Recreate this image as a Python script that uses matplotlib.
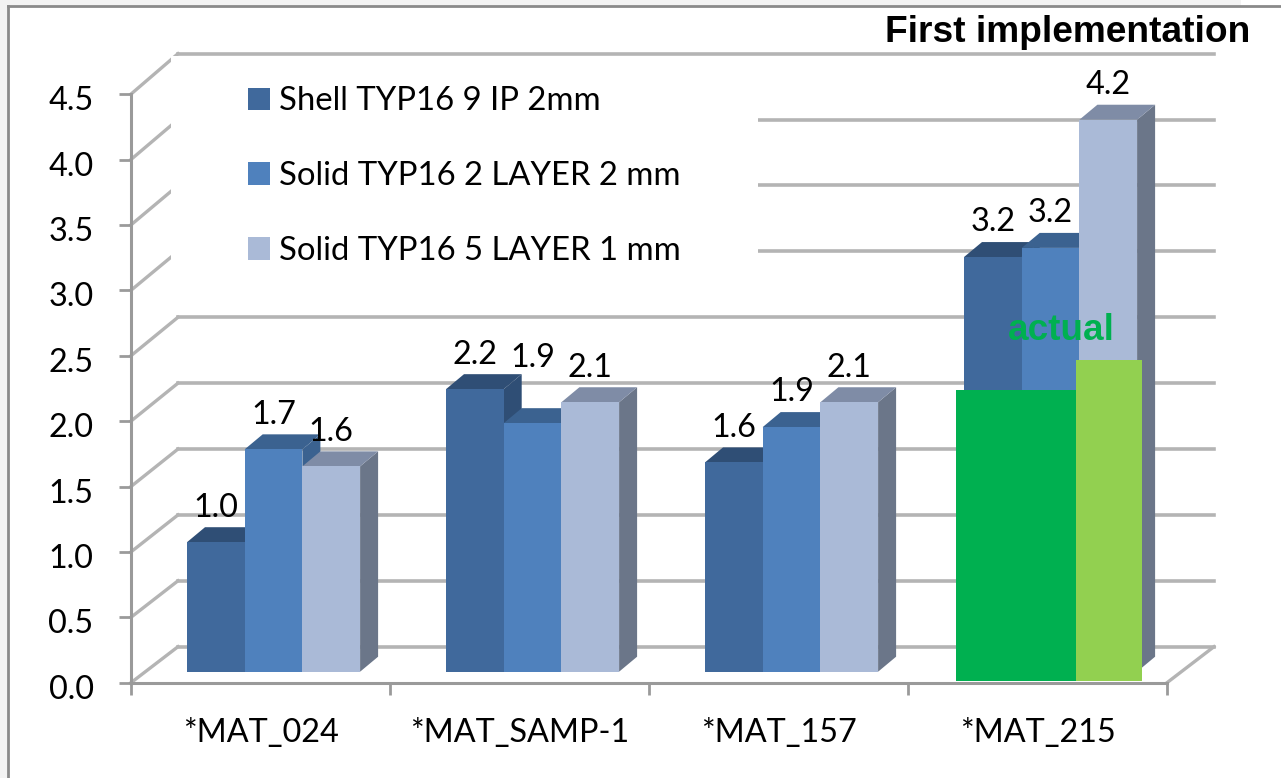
import matplotlib
matplotlib.use('Agg')
import matplotlib.pyplot as plt
from matplotlib.lines import Line2D
from matplotlib.patches import Patch, Polygon, Rectangle
from matplotlib.transforms import ScaledTranslation

# Values
materials = ['*MAT_024', '*MAT_SAMP-1', '*MAT_157', '*MAT_215']
shell_2mm = [0.99, 2.16, 1.60, 3.17]
solid_2layer = [1.70, 1.90, 1.87, 3.24]
solid_5layer = [1.57, 2.06, 2.06, 4.22]
series_names = ['Shell TYP16 9 IP 2mm', 'Solid TYP16 2 LAYER 2 mm', 'Solid TYP16 5 LAYER 1 mm']
y_ticks = [0.0, 0.5, 1.0, 1.5, 2.0, 2.5, 3.0, 3.5, 4.0, 4.5]
actual_dark = 2.24
actual_light = 2.47

front_colors = ['#40699c', '#4f81bd', '#aabad7']
top_colors = ['#2f4e75', '#3b6290', '#7f8ca6']
side_colors = ['#2f4e75', '#3b6290', '#6b7689']
grid_color = '#b4b4b4'
axis_color = '#9a9a9a'
label_font = ['Lato', 'DejaVu Sans']
bold_font = ['Liberation Sans', 'DejaVu Sans']
font_size = 23.3

W, H = 1281, 778
px_x = 259.0  # pixels per category
px_y = 130.8  # pixels per unit of y

fig = plt.figure(figsize=(W / 100, H / 100), dpi=100)
ax = fig.add_axes([131 / W, (H - 682.7) / H, 4 * px_x / W, 4.5 * px_y / H])
ax.set_xlim(0, 4)
ax.set_ylim(0, 4.5)
ax.patch.set_visible(False)

# Depth of the 3D floor and of the bars, in data units
wall_dx = 47 / px_x
wall_dy = 36 / px_y
wall_stretch = 1.0075
bar_dx = 18 / px_x
bar_dy = 15 / px_y
bar_w = 57.7 / px_x
bar_x0 = 56 / px_x
bar_y0 = 11 / px_y

# Walls
for v in y_ticks:
    back = v * wall_stretch + wall_dy
    ax.add_line(Line2D([wall_dx, 4 + wall_dx], [back, back], color=grid_color, lw=2.6,
                       clip_on=False, zorder=1))
    ax.add_line(Line2D([0, wall_dx], [v, back], color=grid_color, lw=2.4,
                       clip_on=False, zorder=1))
ax.add_line(Line2D([4, 4 + wall_dx], [0, wall_dy], color=grid_color, lw=2.4, clip_on=False, zorder=1))

# White box behind the legend hides part of the walls
ax.add_patch(Rectangle((40 / px_x, 2.93), 587 / px_x, 1.86, facecolor='white', edgecolor='none',
                       clip_on=False, zorder=1.5))

# Bars
all_series = [shell_2mm, solid_2layer, solid_5layer]
for g in range(len(materials)):
    for s in range(3):
        left = g + bar_x0 + s * bar_w
        right = left + bar_w
        value = all_series[s][g]
        top = bar_y0 + value
        z = 2 + g + s * 0.1
        ax.add_patch(Polygon([(right, bar_y0), (right + bar_dx, bar_y0 + bar_dy),
                              (right + bar_dx, top + bar_dy), (right, top)],
                             facecolor=side_colors[s], edgecolor='none', clip_on=False, zorder=z))
        ax.add_patch(Polygon([(left, top), (left + bar_dx, top + bar_dy),
                              (right + bar_dx, top + bar_dy), (right, top)],
                             facecolor=top_colors[s], edgecolor='none', clip_on=False, zorder=z))
        ax.add_patch(Rectangle((left, bar_y0), bar_w, value, facecolor=front_colors[s],
                               edgecolor='none', clip_on=False, zorder=z + 0.01))
        # 1.9 of the second group is pushed up in the original
        nudge = 0.23 if (g == 1 and s == 1) else 0
        ax.text(left + bar_w / 2, top + 0.265 + nudge, '%.1f' % value, ha='center', va='center',
                fontsize=font_size, family=label_font, color='black', zorder=10)

# Green boxes pasted over the last group
ax.add_patch(Rectangle((3 + 48 / px_x, 0.013), 120 / px_x, actual_dark - 0.013, facecolor='#00b050',
                       edgecolor='none', clip_on=False, zorder=8))
ax.add_patch(Rectangle((3 + 168 / px_x, 0.013), 66 / px_x, actual_light - 0.013, facecolor='#92d050',
                       edgecolor='none', clip_on=False, zorder=8))
ax.text(3 + 153 / px_x, 2.69, 'actual', ha='center', va='center', fontsize=26.6, fontweight='bold',
        family=bold_font, color='#00b050', zorder=9)

# Axes
for side in ['top', 'right']:
    ax.spines[side].set_visible(False)
for side in ['left', 'bottom']:
    ax.spines[side].set_color(axis_color)
    ax.spines[side].set_linewidth(2.2)
    ax.spines[side].set_zorder(1.8)
ax.set_yticks(y_ticks)
ax.set_yticklabels(['%.1f' % v for v in y_ticks], fontsize=font_size, family=label_font)
ax.set_xticks(range(5))
ax.set_xticklabels([])
ax.set_xticks([i + 0.5 for i in range(4)], minor=True)
ax.set_xticklabels(materials, minor=True, fontsize=font_size, family=label_font)
ax.tick_params(axis='both', which='major', color=axis_color, width=2, length=8.5)
ax.tick_params(axis='x', which='minor', length=0, pad=25.5)
ax.tick_params(axis='y', pad=18.5)
# y labels sit a little under their ticks
shift_down = ScaledTranslation(0, -3 / 72, fig.dpi_scale_trans)
for lab in ax.get_yticklabels():
    lab.set_transform(lab.get_transform() + shift_down)

# Legend
handles = [Patch(facecolor=c, edgecolor='none') for c in front_colors]
leg = ax.legend(handles, series_names, loc='upper left', bbox_to_anchor=(0.113, 1.013), frameon=False,
                handlelength=0.67, handleheight=0.67, handletextpad=0.28, labelspacing=1.36, borderpad=0,
                borderaxespad=0, prop={'family': label_font, 'size': 23.7})
leg.set_zorder(12)

# Frame and heading
fig.add_artist(Rectangle((0, 0), 8 / W, 1, transform=fig.transFigure, facecolor='#f3f3f3', edgecolor='none'))
fig.add_artist(Rectangle((0, 1 - 6 / H), 1241 / W, 6 / H, transform=fig.transFigure, facecolor='#f3f3f3',
                         edgecolor='none'))
fig.add_artist(Line2D([8 / W, 8 / W], [0, 1 - 6 / H], color='#8a8a8a', lw=2))
fig.add_artist(Line2D([8 / W, 1], [1 - 6 / H, 1 - 6 / H], color='#8a8a8a', lw=2))
fig.text(1250 / W, 1 - 32 / H, 'First implementation', ha='right', va='center', fontsize=26.7,
         fontweight='bold', family=bold_font, color='black')

fig.savefig('out.png', dpi=100)
